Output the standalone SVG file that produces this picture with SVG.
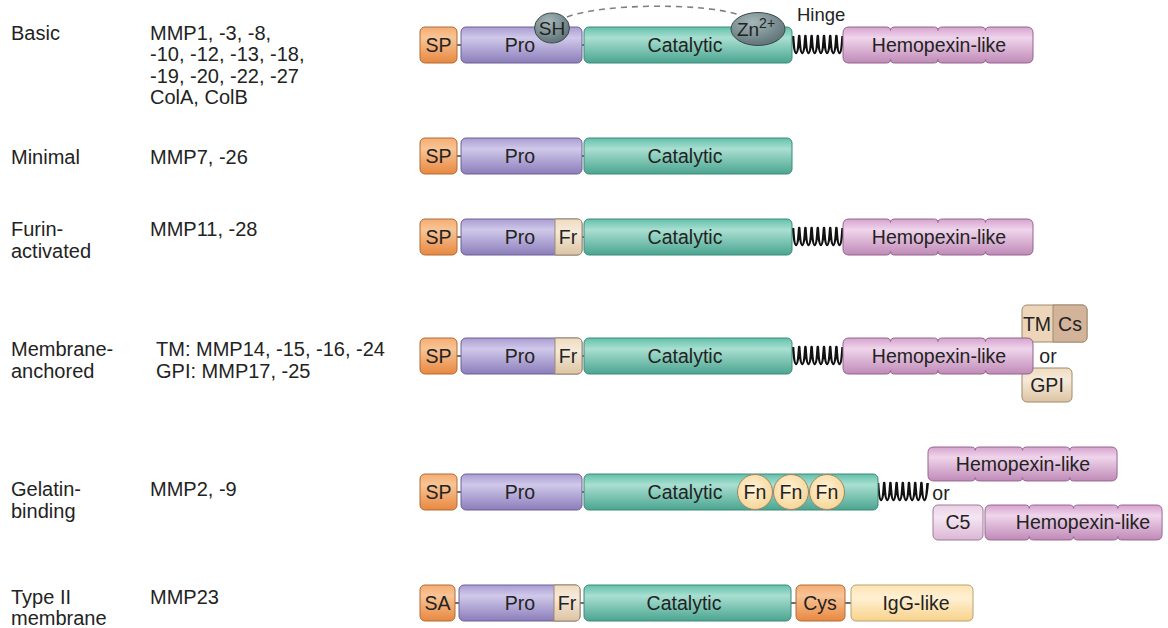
<svg xmlns="http://www.w3.org/2000/svg" xmlns:xlink="http://www.w3.org/1999/xlink" width="1168" height="628" viewBox="0 0 1168 628">
<style>
text{font-family:"Liberation Sans",Arial,Helvetica,sans-serif;fill:#232323}
.lbl{font-size:20px}
.dom{font-size:19.5px;text-anchor:middle}
.sp{fill:url(#gSP);stroke:#b06a36;stroke-width:1}
.pro{fill:url(#gPro);stroke:#6c6093;stroke-width:1}
.cat{fill:url(#gCat);stroke:#3d8a79;stroke-width:1}
.hpx{fill:url(#gHpx);stroke:#93648c;stroke-width:1}
.fr{fill:url(#gFr);stroke:#9e8a6e;stroke-width:1}
.tm{fill:#ecd5b8;stroke:#9e8a6e;stroke-width:1}
.cs{fill:#d3b39a;stroke:#9e8a6e;stroke-width:1}
.gpi{fill:url(#gFr);stroke:#9e8a6e;stroke-width:1}
.c5{fill:url(#gC5);stroke:#9d7b98;stroke-width:1}
.igg{fill:url(#gIgg);stroke:#b9a070;stroke-width:1}
.fn{fill:url(#gFn);stroke:#9a8566;stroke-width:1}
.ion{fill:url(#gIon);stroke:#3c4a4c;stroke-width:1}
.link{stroke:#333;stroke-width:1.4;fill:none}
.spring{stroke:#111;stroke-width:2.6;fill:none;stroke-linejoin:round}
</style>
<defs>
<linearGradient id="gSP" x1="0" y1="0" x2="0" y2="1"><stop offset="0" stop-color="#f5ad72"/><stop offset="0.3" stop-color="#f8c496"/><stop offset="1" stop-color="#e88840"/></linearGradient>
<linearGradient id="gPro" x1="0" y1="0" x2="0" y2="1"><stop offset="0" stop-color="#a99cd2"/><stop offset="0.3" stop-color="#d0c9ea"/><stop offset="1" stop-color="#8b7dbb"/></linearGradient>
<linearGradient id="gCat" x1="0" y1="0" x2="0" y2="1"><stop offset="0" stop-color="#62c0ab"/><stop offset="0.3" stop-color="#a9dfd1"/><stop offset="1" stop-color="#4aa590"/></linearGradient>
<linearGradient id="gHpx" x1="0" y1="0" x2="0" y2="1"><stop offset="0" stop-color="#d6a3ce"/><stop offset="0.3" stop-color="#efd5eb"/><stop offset="1" stop-color="#c08ab8"/></linearGradient>
<linearGradient id="gFr" x1="0" y1="0" x2="0" y2="1"><stop offset="0" stop-color="#efdcc0"/><stop offset="0.35" stop-color="#f6eadb"/><stop offset="1" stop-color="#dcc4a2"/></linearGradient>
<linearGradient id="gC5" x1="0" y1="0" x2="0" y2="1"><stop offset="0" stop-color="#ead0e5"/><stop offset="0.35" stop-color="#f5e6f2"/><stop offset="1" stop-color="#dbb6d4"/></linearGradient>
<linearGradient id="gIgg" x1="0" y1="0" x2="0" y2="1"><stop offset="0" stop-color="#fde3b0"/><stop offset="0.35" stop-color="#fff0d4"/><stop offset="1" stop-color="#f8d28a"/></linearGradient>
<radialGradient id="gFn" cx="0.45" cy="0.4" r="0.6"><stop offset="0" stop-color="#fff3d6"/><stop offset="1" stop-color="#f7d698"/></radialGradient>
<radialGradient id="gIon" cx="0.4" cy="0.3" r="0.75"><stop offset="0" stop-color="#a6b7b9"/><stop offset="1" stop-color="#5b7074"/></radialGradient>
<path id="hpxShape" d="M0,6 Q0,0 6,0 L43,0 Q47.5,0 47.5,3.5 Q47.5,0 52,0 L90.5,0 Q95,0 95,3.5 Q95,0 99.5,0 L138,0 Q142.5,0 142.5,3.5 Q142.5,0 147,0 L184,0 Q190,0 190,6 L190,30 Q190,36 184,36 L147,36 Q142.5,36 142.5,32.5 Q142.5,36 138,36 L99.5,36 Q95,36 95,32.5 Q95,36 90.5,36 L52,36 Q47.5,36 47.5,32.5 Q47.5,36 43,36 L6,36 Q0,36 0,30 Z"/>
<path id="springShape" d="M0,-8 c0.7,10 1.6,17 3.1,17 c1.5,0 2.4,-7 3.1,-17 c0.7,10 1.6,17 3.1,17 c1.5,0 2.4,-7 3.1,-17 c0.7,10 1.6,17 3.1,17 c1.5,0 2.4,-7 3.1,-17 c0.7,10 1.6,17 3.1,17 c1.5,0 2.4,-7 3.1,-17 c0.7,10 1.6,17 3.1,17 c1.5,0 2.4,-7 3.1,-17 c0.7,10 1.6,17 3.1,17 c1.5,0 2.4,-7 3.1,-17 c0.7,10 1.6,17 3.1,17 c1.5,0 2.4,-7 3.1,-17 c0.7,10 1.6,17 3.1,17 c1.5,0 2.4,-7 3.1,-17"/>
</defs>
<rect width="1168" height="628" fill="#ffffff"/>

<!-- Left column labels -->
<g id="labels">
<text class="lbl" x="11" y="40">Basic</text>
<text class="lbl" x="150" y="40">MMP1, -3, -8,</text>
<text class="lbl" x="150" y="61">-10, -12, -13, -18,</text>
<text class="lbl" x="150" y="83">-19, -20, -22, -27</text>
<text class="lbl" x="150" y="104">ColA, ColB</text>
<text class="lbl" x="11" y="164">Minimal</text>
<text class="lbl" x="150" y="164">MMP7, -26</text>
<text class="lbl" x="11" y="236">Furin-</text>
<text class="lbl" x="11" y="258">activated</text>
<text class="lbl" x="150" y="236">MMP11, -28</text>
<text class="lbl" x="11" y="356">Membrane-</text>
<text class="lbl" x="11" y="378">anchored</text>
<text class="lbl" x="156" y="356">TM: MMP14, -15, -16, -24</text>
<text class="lbl" x="156" y="378">GPI: MMP17, -25</text>
<text class="lbl" x="11" y="496">Gelatin-</text>
<text class="lbl" x="11" y="518">binding</text>
<text class="lbl" x="150" y="496">MMP2, -9</text>
<text class="lbl" x="11" y="604">Type II</text>
<text class="lbl" x="11" y="625">membrane</text>
<text class="lbl" x="150" y="604">MMP23</text>
</g>

<!-- Connectors: linkers, hinges, dashed cysteine-switch arc -->
<g id="connectors">
<path d="M567,17 C600,4 700,2 740,15" fill="none" stroke="#808080" stroke-width="1.6" stroke-dasharray="6,5"/>
<line class="link" x1="457" y1="45" x2="461" y2="45"/>
<line class="link" x1="581" y1="45" x2="585" y2="45"/>
<use href="#springShape" class="spring" transform="translate(793,44)"/>
<line class="link" x1="457" y1="156" x2="461" y2="156"/>
<line class="link" x1="581" y1="156" x2="585" y2="156"/>
<line class="link" x1="457" y1="237" x2="461" y2="237"/>
<line class="link" x1="581" y1="237" x2="585" y2="237"/>
<use href="#springShape" class="spring" transform="translate(793,236)"/>
<line class="link" x1="457" y1="356" x2="461" y2="356"/>
<line class="link" x1="581" y1="356" x2="585" y2="356"/>
<use href="#springShape" class="spring" transform="translate(793,355)"/>
<line class="link" x1="457" y1="492" x2="461" y2="492"/>
<line class="link" x1="581" y1="492" x2="585" y2="492"/>
<use href="#springShape" class="spring" transform="translate(878,491)"/>
<line class="link" x1="455" y1="603" x2="459" y2="603"/>
<line class="link" x1="579" y1="603" x2="584" y2="603"/>
<line class="link" x1="791" y1="603" x2="796" y2="603"/>
<line class="link" x1="845" y1="603" x2="851" y2="603"/>
</g>

<!-- Row 1: Basic -->
<g id="basic-sp"><rect class="sp" x="420" y="27" width="37" height="36" rx="5"/><text class="dom" x="438.5" y="52">SP</text></g>
<g id="basic-pro"><rect class="pro" x="461" y="27" width="121" height="36" rx="5"/><text class="dom" x="520" y="52">Pro</text></g>
<g id="basic-cat"><rect class="cat" x="584" y="27" width="208" height="36" rx="5"/><text class="dom" x="685" y="52">Catalytic</text></g>
<g id="basic-hpx"><use href="#hpxShape" class="hpx" transform="translate(843,27)"/><text class="dom" x="939" y="52">Hemopexin-like</text></g>
<g id="basic-sh"><ellipse class="ion" cx="552" cy="28" rx="17.5" ry="15"/><text class="dom" x="552" y="35" style="font-size:19px">SH</text></g>
<g id="basic-zn"><ellipse class="ion" cx="758" cy="29" rx="27" ry="16.5"/><text x="756" y="36" style="font-size:19px;text-anchor:middle">Zn<tspan dy="-8" style="font-size:14px">2+</tspan></text></g>
<g id="hinge-label"><text x="797" y="21" style="font-size:18.5px">Hinge</text></g>

<!-- Row 2: Minimal -->
<g id="minimal-sp"><rect class="sp" x="420" y="138" width="37" height="36" rx="5"/><text class="dom" x="438.5" y="163">SP</text></g>
<g id="minimal-pro"><rect class="pro" x="461" y="138" width="121" height="36" rx="5"/><text class="dom" x="520" y="163">Pro</text></g>
<g id="minimal-cat"><rect class="cat" x="584" y="138" width="208" height="36" rx="5"/><text class="dom" x="685" y="163">Catalytic</text></g>

<!-- Row 3: Furin-activated -->
<g id="furin-sp"><rect class="sp" x="420" y="219" width="37" height="36" rx="5"/><text class="dom" x="438.5" y="244">SP</text></g>
<g id="furin-pro"><rect class="pro" x="461" y="219" width="121" height="36" rx="5"/><text class="dom" x="520" y="244">Pro</text></g>
<g id="furin-fr"><path class="fr" d="M555,219 H577 Q582,219 582,224 V250 Q582,255 577,255 H555 Z"/><text class="dom" x="568" y="244">Fr</text></g>
<g id="furin-cat"><rect class="cat" x="584" y="219" width="208" height="36" rx="5"/><text class="dom" x="685" y="244">Catalytic</text></g>
<g id="furin-hpx"><use href="#hpxShape" class="hpx" transform="translate(843,219)"/><text class="dom" x="939" y="244">Hemopexin-like</text></g>

<!-- Row 4: Membrane-anchored -->
<g id="mem-sp"><rect class="sp" x="420" y="338" width="37" height="36" rx="5"/><text class="dom" x="438.5" y="363">SP</text></g>
<g id="mem-pro"><rect class="pro" x="461" y="338" width="121" height="36" rx="5"/><text class="dom" x="520" y="363">Pro</text></g>
<g id="mem-fr"><path class="fr" d="M555,338 H577 Q582,338 582,343 V369 Q582,374 577,374 H555 Z"/><text class="dom" x="568" y="363">Fr</text></g>
<g id="mem-cat"><rect class="cat" x="584" y="338" width="208" height="36" rx="5"/><text class="dom" x="685" y="363">Catalytic</text></g>
<g id="mem-tmcs"><rect class="tm" x="1022" y="305" width="65" height="37" rx="5"/><path class="cs" d="M1053,305 H1082 Q1087,305 1087,310 V337 Q1087,342 1082,342 H1053 Z"/><text class="dom" x="1037" y="331">TM</text><text class="dom" x="1070" y="331">Cs</text></g>
<g id="mem-gpi"><rect class="gpi" x="1022" y="368" width="50" height="34" rx="5"/><text class="dom" x="1047" y="392">GPI</text></g>
<g id="mem-hpx"><use href="#hpxShape" class="hpx" transform="translate(843,338)"/><text class="dom" x="939" y="363">Hemopexin-like</text></g>
<g id="mem-or"><text class="dom" x="1048" y="363">or</text></g>

<!-- Row 5: Gelatin-binding -->
<g id="gel-sp"><rect class="sp" x="420" y="474" width="37" height="36" rx="5"/><text class="dom" x="438.5" y="499">SP</text></g>
<g id="gel-pro"><rect class="pro" x="461" y="474" width="121" height="36" rx="5"/><text class="dom" x="520" y="499">Pro</text></g>
<g id="gel-cat"><rect class="cat" x="584" y="474" width="294" height="36" rx="5"/><text class="dom" x="685" y="499">Catalytic</text></g>
<g id="gel-fn1"><circle class="fn" cx="755" cy="492" r="17.5"/><text class="dom" x="755" y="499">Fn</text></g>
<g id="gel-fn2"><circle class="fn" cx="791" cy="492" r="17.5"/><text class="dom" x="791" y="499">Fn</text></g>
<g id="gel-fn3"><circle class="fn" cx="827" cy="492" r="17.5"/><text class="dom" x="827" y="499">Fn</text></g>
<g id="gel-hpx1"><use href="#hpxShape" class="hpx" transform="translate(928,447) scale(0.995,0.944)"/><text class="dom" x="1023" y="471">Hemopexin-like</text></g>
<g id="gel-or"><text class="dom" x="941" y="500">or</text></g>
<g id="gel-c5"><rect class="c5" x="933" y="505" width="50" height="35" rx="5"/><text class="dom" x="958" y="529">C5</text></g>
<g id="gel-hpx2"><use href="#hpxShape" class="hpx" transform="translate(985,505) scale(0.932,0.972)"/><text class="dom" x="1083" y="529">Hemopexin-like</text></g>

<!-- Row 6: Type II membrane -->
<g id="t2-sa"><rect class="sp" x="420" y="585" width="35" height="36" rx="5"/><text class="dom" x="437.5" y="610">SA</text></g>
<g id="t2-pro"><rect class="pro" x="459" y="585" width="121" height="36" rx="5"/><text class="dom" x="520" y="610">Pro</text></g>
<g id="t2-fr"><path class="fr" d="M554,585 H575 Q580,585 580,590 V616 Q580,621 575,621 H554 Z"/><text class="dom" x="567" y="610">Fr</text></g>
<g id="t2-cat"><rect class="cat" x="584" y="585" width="207" height="36" rx="5"/><text class="dom" x="684" y="610">Catalytic</text></g>
<g id="t2-cys"><rect class="sp" x="796" y="585" width="49" height="36" rx="5"/><text class="dom" x="820" y="610">Cys</text></g>
<g id="t2-igg"><rect class="igg" x="851" y="585" width="122" height="36" rx="5"/><text class="dom" x="916" y="610">IgG-like</text></g>
</svg>
